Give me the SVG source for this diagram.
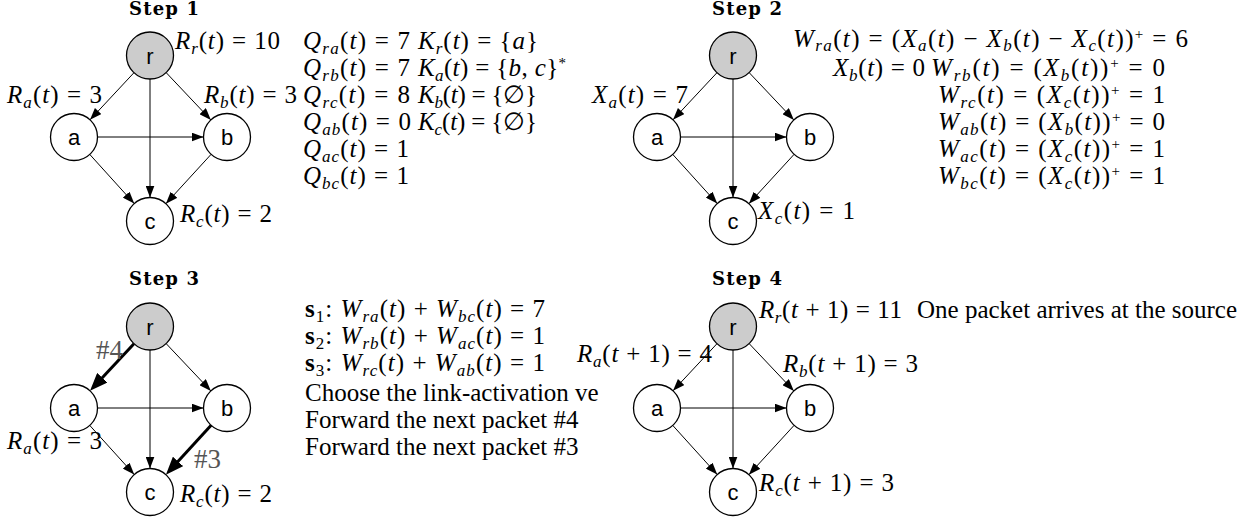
<svg xmlns="http://www.w3.org/2000/svg" width="1260" height="520" viewBox="0 0 1260 520">
<defs>
<style>
.m{font-family:"Liberation Serif","DejaVu Serif",serif;font-size:25px;fill:#000}
.i{font-style:italic}
.s{font-size:17px}
.p{font-size:15px}
.t{font-family:"DejaVu Serif",serif;font-weight:bold;font-size:18px;fill:#000}
.n{font-family:"Liberation Sans",Arial,sans-serif;font-size:22px;text-anchor:middle;fill:#000}
.h{font-family:"Liberation Serif",serif;font-size:27px;fill:#555}
.nd{fill:#fff;stroke:#000;stroke-width:1.3}
.src{fill:#cccccc;stroke:#000;stroke-width:1.3}
.e{stroke:#000;stroke-width:1;fill:none;marker-end:url(#ah)}
.eb{stroke:#000;stroke-width:3;fill:none;marker-end:url(#ahb)}
</style>
<marker id="ah" markerUnits="userSpaceOnUse" markerWidth="12" markerHeight="9" refX="12" refY="4.5" orient="auto"><path d="M0,0 L12,4.5 L0,9 z" fill="#000"/></marker>
<marker id="ahb" markerUnits="userSpaceOnUse" markerWidth="18" markerHeight="14" refX="10" refY="7" orient="auto"><path d="M0,0 L18,7 L0,14 z" fill="#000"/></marker>
</defs>
<rect width="1260" height="520" fill="#fff"/>

<g id="connectors">
<g id="edges-step1">
<line class="e" x1="133.97" y1="72.69" x2="90.03" y2="119.81"/>
<line class="e" x1="166.14" y1="72.58" x2="210.86" y2="119.92"/>
<line class="e" x1="150" y1="79" x2="150" y2="197.5"/>
<line class="e" x1="97.5" y1="137" x2="203.5" y2="137"/>
<line class="e" x1="89.77" y1="154.43" x2="134.23" y2="203.57"/>
<line class="e" x1="211.12" y1="154.32" x2="165.88" y2="203.68"/>
</g>
<g id="edges-step2" transform="translate(583,0)">
<line class="e" x1="133.97" y1="72.69" x2="90.03" y2="119.81"/>
<line class="e" x1="166.14" y1="72.58" x2="210.86" y2="119.92"/>
<line class="e" x1="150" y1="79" x2="150" y2="197.5"/>
<line class="e" x1="97.5" y1="137" x2="203.5" y2="137"/>
<line class="e" x1="89.77" y1="154.43" x2="134.23" y2="203.57"/>
<line class="e" x1="211.12" y1="154.32" x2="165.88" y2="203.68"/>
</g>
<g id="edges-step3" transform="translate(0,271)">
<line class="eb" x1="133.97" y1="72.69" x2="95.49" y2="113.96"/>
<line class="e" x1="166.14" y1="72.58" x2="210.86" y2="119.92"/>
<line class="e" x1="150" y1="79" x2="150" y2="197.5"/>
<line class="e" x1="97.5" y1="137" x2="203.5" y2="137"/>
<line class="e" x1="89.77" y1="154.43" x2="134.23" y2="203.57"/>
<line class="eb" x1="211.12" y1="154.32" x2="171.29" y2="197.78"/>
</g>
<g id="edges-step4" transform="translate(583,271)">
<line class="e" x1="133.97" y1="72.69" x2="90.03" y2="119.81"/>
<line class="e" x1="166.14" y1="72.58" x2="210.86" y2="119.92"/>
<line class="e" x1="150" y1="79" x2="150" y2="197.5"/>
<line class="e" x1="97.5" y1="137" x2="203.5" y2="137"/>
<line class="e" x1="89.77" y1="154.43" x2="134.23" y2="203.57"/>
<line class="e" x1="211.12" y1="154.32" x2="165.88" y2="203.68"/>
</g>
</g>

<!-- Step 1 -->
<g id="s1-r"><circle class="src" cx="150" cy="55.5" r="23.5"/><text class="n" x="150" y="63.5">r</text></g>
<g id="s1-a"><circle class="nd" cx="74" cy="137" r="23.5"/><text class="n" x="74" y="145">a</text></g>
<g id="s1-b"><circle class="nd" cx="227" cy="137" r="23.5"/><text class="n" x="227" y="145">b</text></g>
<g id="s1-c"><circle class="nd" cx="150" cy="221" r="23.5"/><text class="n" x="150" y="229">c</text></g>

<!-- Step 2 -->
<g id="s2-r"><circle class="src" cx="733" cy="55.5" r="23.5"/><text class="n" x="733" y="63.5">r</text></g>
<g id="s2-a"><circle class="nd" cx="657" cy="137" r="23.5"/><text class="n" x="657" y="145">a</text></g>
<g id="s2-b"><circle class="nd" cx="810" cy="137" r="23.5"/><text class="n" x="810" y="145">b</text></g>
<g id="s2-c"><circle class="nd" cx="733" cy="221" r="23.5"/><text class="n" x="733" y="229">c</text></g>

<!-- Step 3 -->
<g id="s3-r"><circle class="src" cx="150" cy="326.5" r="23.5"/><text class="n" x="150" y="334.5">r</text></g>
<g id="s3-a"><circle class="nd" cx="74" cy="408" r="23.5"/><text class="n" x="74" y="416">a</text></g>
<g id="s3-b"><circle class="nd" cx="227" cy="408" r="23.5"/><text class="n" x="227" y="416">b</text></g>
<g id="s3-c"><circle class="nd" cx="150" cy="492" r="23.5"/><text class="n" x="150" y="500">c</text></g>

<!-- Step 4 -->
<g id="s4-r"><circle class="src" cx="733" cy="326.5" r="23.5"/><text class="n" x="733" y="334.5">r</text></g>
<g id="s4-a"><circle class="nd" cx="657" cy="408" r="23.5"/><text class="n" x="657" y="416">a</text></g>
<g id="s4-b"><circle class="nd" cx="810" cy="408" r="23.5"/><text class="n" x="810" y="416">b</text></g>
<g id="s4-c"><circle class="nd" cx="733" cy="492" r="23.5"/><text class="n" x="733" y="500">c</text></g>

<g id="titles">
<text class="t" x="129" y="15" textLength="70">Step 1</text>
<text class="t" x="712" y="15" textLength="70">Step 2</text>
<text class="t" x="129" y="285" textLength="70">Step 3</text>
<text class="t" x="712" y="285" textLength="70">Step 4</text>
</g>

<g id="labels-step1">
<text class="m" x="175" y="49" textLength="105"><tspan class="i">R</tspan><tspan class="s i" dy="5">r</tspan><tspan dy="-5">(</tspan><tspan class="i">t</tspan>) = 10</text>
<text class="m" x="7" y="103" textLength="95"><tspan class="i">R</tspan><tspan class="s i" dy="5">a</tspan><tspan dy="-5">(</tspan><tspan class="i">t</tspan>) = 3</text>
<text class="m" x="204" y="103" textLength="93"><tspan class="i">R</tspan><tspan class="s i" dy="5">b</tspan><tspan dy="-5">(</tspan><tspan class="i">t</tspan>) = 3</text>
<text class="m" x="180" y="222" textLength="92"><tspan class="i">R</tspan><tspan class="s i" dy="5">c</tspan><tspan dy="-5">(</tspan><tspan class="i">t</tspan>) = 2</text>
<text class="m" x="303" y="49" textLength="107"><tspan class="i">Q</tspan><tspan class="s i" dy="5">ra</tspan><tspan dy="-5">(</tspan><tspan class="i">t</tspan>) = 7</text>
<text class="m" x="303" y="76" textLength="107"><tspan class="i">Q</tspan><tspan class="s i" dy="5">rb</tspan><tspan dy="-5">(</tspan><tspan class="i">t</tspan>) = 7</text>
<text class="m" x="303" y="103" textLength="107"><tspan class="i">Q</tspan><tspan class="s i" dy="5">rc</tspan><tspan dy="-5">(</tspan><tspan class="i">t</tspan>) = 8</text>
<text class="m" x="303" y="130" textLength="108"><tspan class="i">Q</tspan><tspan class="s i" dy="5">ab</tspan><tspan dy="-5">(</tspan><tspan class="i">t</tspan>) = 0</text>
<text class="m" x="303" y="157" textLength="106"><tspan class="i">Q</tspan><tspan class="s i" dy="5">ac</tspan><tspan dy="-5">(</tspan><tspan class="i">t</tspan>) = 1</text>
<text class="m" x="303" y="184" textLength="106"><tspan class="i">Q</tspan><tspan class="s i" dy="5">bc</tspan><tspan dy="-5">(</tspan><tspan class="i">t</tspan>) = 1</text>
<text class="m" x="418" y="49" textLength="120"><tspan class="i">K</tspan><tspan class="s i" dy="5">r</tspan><tspan dy="-5">(</tspan><tspan class="i">t</tspan>) = {<tspan class="i">a</tspan>}</text>
<text class="m" x="418" y="76" textLength="148"><tspan class="i">K</tspan><tspan class="s i" dy="5">a</tspan><tspan dy="-5">(</tspan><tspan class="i">t</tspan>) = {<tspan class="i">b</tspan>, <tspan class="i">c</tspan>}<tspan class="p" dy="-8">*</tspan></text>
<text class="m" x="418" y="103" textLength="119"><tspan class="i">K</tspan><tspan class="s i" dy="5">b</tspan><tspan dy="-5">(</tspan><tspan class="i">t</tspan>) = {∅}</text>
<text class="m" x="418" y="130" textLength="119"><tspan class="i">K</tspan><tspan class="s i" dy="5">c</tspan><tspan dy="-5">(</tspan><tspan class="i">t</tspan>) = {∅}</text>
</g>

<g id="labels-step2">
<text class="m" x="592" y="103" textLength="96"><tspan class="i">X</tspan><tspan class="s i" dy="5">a</tspan><tspan dy="-5">(</tspan><tspan class="i">t</tspan>) = 7</text>
<text class="m" x="758" y="219" textLength="97"><tspan class="i">X</tspan><tspan class="s i" dy="5">c</tspan><tspan dy="-5">(</tspan><tspan class="i">t</tspan>) = 1</text>
<text class="m" x="793" y="47" textLength="395"><tspan class="i">W</tspan><tspan class="s i" dy="4">ra</tspan><tspan dy="-4">(</tspan><tspan class="i">t</tspan>) = (<tspan class="i">X</tspan><tspan class="s i" dy="4">a</tspan><tspan dy="-4">(</tspan><tspan class="i">t</tspan>) − <tspan class="i">X</tspan><tspan class="s i" dy="4">b</tspan><tspan dy="-4">(</tspan><tspan class="i">t</tspan>) − <tspan class="i">X</tspan><tspan class="s i" dy="4">c</tspan><tspan dy="-4">(</tspan><tspan class="i">t</tspan>))<tspan class="p" dy="-8">+</tspan><tspan dy="8"> = 6</tspan></text>
<text class="m" x="833" y="76" textLength="92"><tspan class="i">X</tspan><tspan class="s i" dy="5">b</tspan><tspan dy="-5">(</tspan><tspan class="i">t</tspan>) = 0</text>
<text class="m" x="931" y="76" textLength="234"><tspan class="i">W</tspan><tspan class="s i" dy="5">rb</tspan><tspan dy="-5">(</tspan><tspan class="i">t</tspan>) = (<tspan class="i">X</tspan><tspan class="s i" dy="5">b</tspan><tspan dy="-5">(</tspan><tspan class="i">t</tspan>))<tspan class="p" dy="-8">+</tspan><tspan dy="8"> = 0</tspan></text>
<text class="m" x="938" y="103" textLength="227"><tspan class="i">W</tspan><tspan class="s i" dy="5">rc</tspan><tspan dy="-5">(</tspan><tspan class="i">t</tspan>) = (<tspan class="i">X</tspan><tspan class="s i" dy="5">c</tspan><tspan dy="-5">(</tspan><tspan class="i">t</tspan>))<tspan class="p" dy="-8">+</tspan><tspan dy="8"> = 1</tspan></text>
<text class="m" x="938" y="130" textLength="227"><tspan class="i">W</tspan><tspan class="s i" dy="5">ab</tspan><tspan dy="-5">(</tspan><tspan class="i">t</tspan>) = (<tspan class="i">X</tspan><tspan class="s i" dy="5">b</tspan><tspan dy="-5">(</tspan><tspan class="i">t</tspan>))<tspan class="p" dy="-8">+</tspan><tspan dy="8"> = 0</tspan></text>
<text class="m" x="938" y="157" textLength="227"><tspan class="i">W</tspan><tspan class="s i" dy="5">ac</tspan><tspan dy="-5">(</tspan><tspan class="i">t</tspan>) = (<tspan class="i">X</tspan><tspan class="s i" dy="5">c</tspan><tspan dy="-5">(</tspan><tspan class="i">t</tspan>))<tspan class="p" dy="-8">+</tspan><tspan dy="8"> = 1</tspan></text>
<text class="m" x="938" y="184" textLength="227"><tspan class="i">W</tspan><tspan class="s i" dy="5">bc</tspan><tspan dy="-5">(</tspan><tspan class="i">t</tspan>) = (<tspan class="i">X</tspan><tspan class="s i" dy="5">c</tspan><tspan dy="-5">(</tspan><tspan class="i">t</tspan>))<tspan class="p" dy="-8">+</tspan><tspan dy="8"> = 1</tspan></text>
</g>

<g id="labels-step3">
<text class="h" x="96" y="359">#4</text>
<text class="h" x="194" y="468">#3</text>
<text class="m" x="7" y="449" textLength="95"><tspan class="i">R</tspan><tspan class="s i" dy="5">a</tspan><tspan dy="-5">(</tspan><tspan class="i">t</tspan>) = 3</text>
<text class="m" x="180" y="502" textLength="92"><tspan class="i">R</tspan><tspan class="s i" dy="5">c</tspan><tspan dy="-5">(</tspan><tspan class="i">t</tspan>) = 2</text>
<text class="m" x="305" y="317" textLength="240"><tspan font-weight="bold">s</tspan><tspan class="s" dy="5">1</tspan><tspan dy="-5">: </tspan><tspan class="i">W</tspan><tspan class="s i" dy="5">ra</tspan><tspan dy="-5">(</tspan><tspan class="i">t</tspan>) + <tspan class="i">W</tspan><tspan class="s i" dy="5">bc</tspan><tspan dy="-5">(</tspan><tspan class="i">t</tspan>) = 7</text>
<text class="m" x="305" y="344" textLength="240"><tspan font-weight="bold">s</tspan><tspan class="s" dy="5">2</tspan><tspan dy="-5">: </tspan><tspan class="i">W</tspan><tspan class="s i" dy="5">rb</tspan><tspan dy="-5">(</tspan><tspan class="i">t</tspan>) + <tspan class="i">W</tspan><tspan class="s i" dy="5">ac</tspan><tspan dy="-5">(</tspan><tspan class="i">t</tspan>) = 1</text>
<text class="m" x="305" y="371" textLength="240"><tspan font-weight="bold">s</tspan><tspan class="s" dy="5">3</tspan><tspan dy="-5">: </tspan><tspan class="i">W</tspan><tspan class="s i" dy="5">rc</tspan><tspan dy="-5">(</tspan><tspan class="i">t</tspan>) + <tspan class="i">W</tspan><tspan class="s i" dy="5">ab</tspan><tspan dy="-5">(</tspan><tspan class="i">t</tspan>) = 1</text>
<text class="m" x="305" y="401">Choose the link-activation ve</text>
<text class="m" x="305" y="428">Forward the next packet #4</text>
<text class="m" x="305" y="455">Forward the next packet #3</text>
</g>

<g id="labels-step4">
<text class="m" x="759" y="318" textLength="143"><tspan class="i">R</tspan><tspan class="s i" dy="5">r</tspan><tspan dy="-5">(</tspan><tspan class="i">t</tspan> + 1) = 11</text>
<text class="m" x="917" y="318">One packet arrives at the source</text>
<text class="m" x="577" y="362" textLength="135"><tspan class="i">R</tspan><tspan class="s i" dy="5">a</tspan><tspan dy="-5">(</tspan><tspan class="i">t</tspan> + 1) = 4</text>
<text class="m" x="783" y="372" textLength="135"><tspan class="i">R</tspan><tspan class="s i" dy="5">b</tspan><tspan dy="-5">(</tspan><tspan class="i">t</tspan> + 1) = 3</text>
<text class="m" x="759" y="491" textLength="135"><tspan class="i">R</tspan><tspan class="s i" dy="5">c</tspan><tspan dy="-5">(</tspan><tspan class="i">t</tspan> + 1) = 3</text>
</g>
</svg>
